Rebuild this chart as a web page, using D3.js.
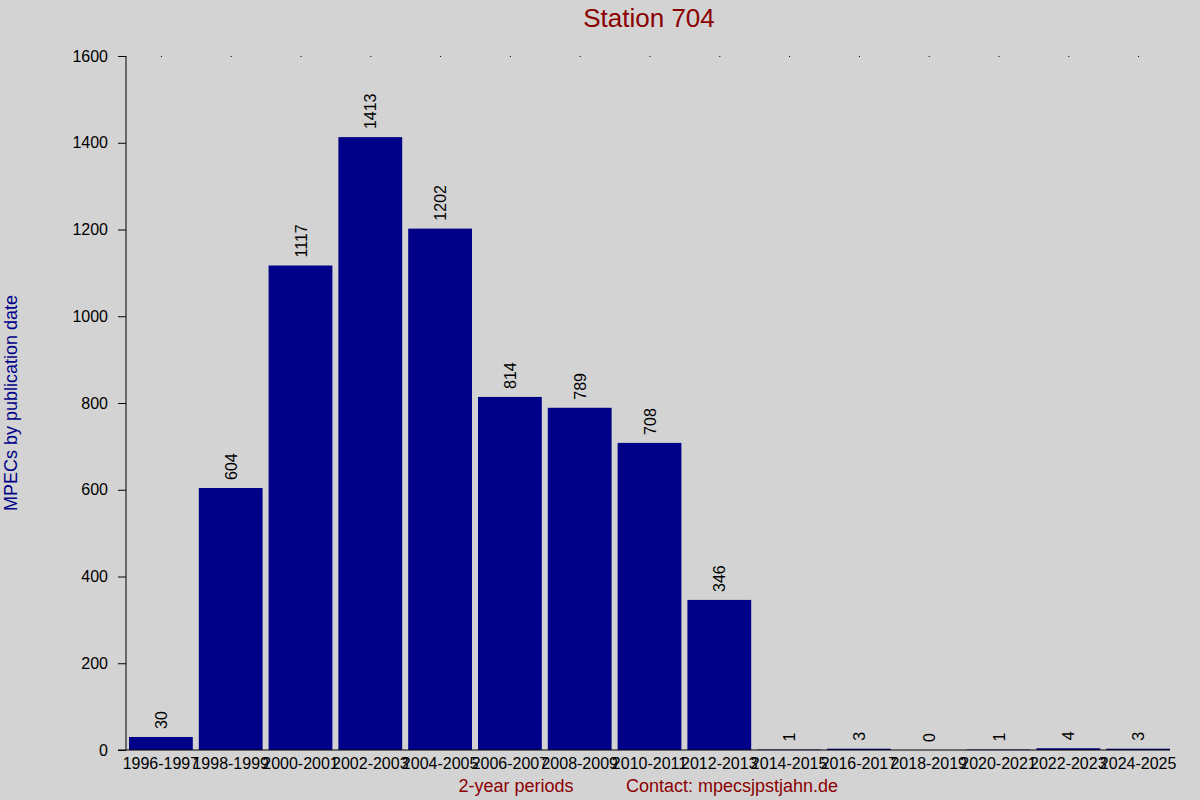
<!DOCTYPE html>
<html>
<head>
<meta charset="utf-8">
<script src="https://cdn.jsdelivr.net/npm/d3@7"></script>
<style>
  body { margin: 0; background: #d3d3d3; }
  svg { display: block; font-family: "Liberation Sans", Arial, sans-serif; }
</style>
</head>
<body>
<div id="chart"></div>
<script>
// periods and MPEC counts
var periods = ["1996-1997", "1998-1999", "2000-2001", "2002-2003", "2004-2005",
               "2006-2007", "2008-2009", "2010-2011", "2012-2013", "2014-2015",
               "2016-2017", "2018-2019", "2020-2021", "2022-2023", "2024-2025"];
var counts = [30, 604, 1117, 1413, 1202, 814, 789, 708, 346, 1, 3, 0, 1, 4, 3];
var yTicks = [0, 200, 400, 600, 800, 1000, 1200, 1400, 1600];

var width = 1200, height = 800;
var plotLeft = 126, plotRight = 1173, plotTop = 56, plotBottom = 750;

var svg = d3.select("#chart").append("svg")
    .attr("width", width)
    .attr("height", height)
    .style("background-color", "#d3d3d3");

var x = d3.scaleBand()
    .domain(periods)
    .range([plotLeft, plotRight])
    .paddingInner(0.086)
    .paddingOuter(0.043);

var y = d3.scaleLinear()
    .domain([0, 1600])
    .range([plotBottom, plotTop]);

var data = periods.map(function(p, i) { return { period: p, count: counts[i] }; });

// bars
svg.append("g").selectAll("rect")
  .data(data)
  .enter().append("rect")
    .attr("x", function(d) { return x(d.period); })
    .attr("width", x.bandwidth())
    .attr("y", function(d) { return y(d.count); })
    .attr("height", function(d) { return plotBottom - y(d.count); })
    .attr("fill", "#000088");

// value labels, rotated
svg.append("g").selectAll("text")
  .data(data)
  .enter().append("text")
    .attr("transform", function(d) {
      var cx = x(d.period) + x.bandwidth() / 2 + 6;
      var cy = y(d.count) - 8;
      return "translate(" + cx + "," + cy + ") rotate(-90)";
    })
    .attr("text-anchor", "start")
    .attr("font-size", "16px")
    .attr("fill", "#000")
    .text(function(d) { return d.count; });

// y axis
var yAxis = d3.axisLeft(y).tickValues(yTicks).tickFormat(d3.format("d")).tickSize(8).tickPadding(10);
var gy = svg.append("g")
    .attr("transform", "translate(" + plotLeft + ",0)")
    .call(yAxis);
gy.select(".domain").attr("d", "M0," + plotTop + "V" + plotBottom).attr("stroke", "#000");
gy.selectAll("text").attr("font-size", "16px").attr("font-family", "Liberation Sans, Arial, sans-serif").attr("fill", "#000");
gy.selectAll("line").attr("stroke", "#000");

// x axis
var xAxis = d3.axisBottom(x).tickSize(0).tickPadding(8);
var gx = svg.append("g")
    .attr("transform", "translate(0," + plotBottom + ")")
    .call(xAxis);
gx.select(".domain").attr("d", "M" + (plotLeft - 8) + ",0H" + (plotRight - 3)).attr("stroke", "#000");
gx.selectAll("text").attr("font-size", "16px").attr("font-family", "Liberation Sans, Arial, sans-serif").attr("fill", "#000");

// little dots along the top edge
svg.append("g").selectAll("rect")
  .data(periods)
  .enter().append("rect")
    .attr("x", function(d) { return x(d) + x.bandwidth() / 2; })
    .attr("y", plotTop)
    .attr("width", 1)
    .attr("height", 1)
    .attr("fill", "#000");

// titles
svg.append("text")
    .attr("x", 649)
    .attr("y", 27)
    .attr("text-anchor", "middle")
    .attr("font-size", "26px")
    .attr("fill", "#8b0000")
    .text("Station 704");

svg.append("text")
    .attr("x", 516)
    .attr("y", 792)
    .attr("text-anchor", "middle")
    .attr("font-size", "18px")
    .attr("fill", "#8b0000")
    .text("2-year periods");

svg.append("text")
    .attr("x", 626)
    .attr("y", 792)
    .attr("text-anchor", "start")
    .attr("font-size", "18px")
    .attr("fill", "#8b0000")
    .text("Contact: mpecsjpstjahn.de");

svg.append("text")
    .attr("transform", "translate(17,403) rotate(-90)")
    .attr("text-anchor", "middle")
    .attr("font-size", "18px")
    .attr("fill", "#000088")
    .text("MPECs by publication date");
</script>
</body>
</html>
